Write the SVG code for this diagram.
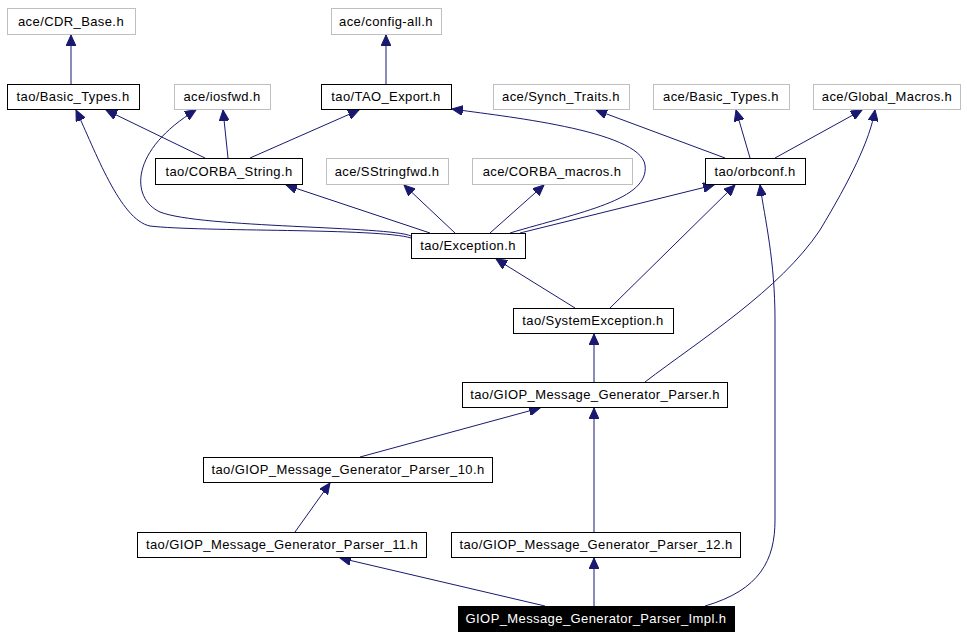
<svg xmlns="http://www.w3.org/2000/svg" width="967" height="639" viewBox="0 0 967 639">
<style>
text{font-family:"Liberation Sans",Arial,sans-serif;font-size:13px;letter-spacing:0.4px;text-anchor:middle;fill:#000}
.g rect{fill:#fff;stroke:#bfbfbf;stroke-width:1}
.b rect{fill:#fff;stroke:#000;stroke-width:1}
.k rect{fill:#000;stroke:#000}
.k text{fill:#fff}
#edges path{fill:none;stroke:#191970;stroke-width:1;marker-end:url(#a)}
</style>
<defs><marker id="a" markerUnits="userSpaceOnUse" markerWidth="12" markerHeight="10" refX="11" refY="5" orient="auto"><path d="M0,0 L11,5 L0,10 Z" fill="#191970" stroke="#191970"/></marker></defs>
<rect width="967" height="639" fill="#fff"/>
<g id="edges">
<path d="M71,84 L71,35"/>
<path d="M386,84 L386,35"/>
<path d="M205,158 L106,110"/>
<path d="M228,158 L223,110"/>
<path d="M250,158 L359,110"/>
<path d="M411,238 C380,228 200,232 150,226 C120,220 95,150 76,110"/>
<path d="M411,236 C390,226 200,228 160,212 C130,198 130,150 196,110"/>
<path d="M430,233 L286,185"/>
<path d="M455,233 L404,185"/>
<path d="M490,233 L544,185"/>
<path d="M510,233 C580,212 650,200 645,165 C640,130 500,116 452,109"/>
<path d="M520,233 L714,185"/>
<path d="M575,308 L496,259"/>
<path d="M610,308 L735,185"/>
<path d="M594,382 L594,334"/>
<path d="M645,382 C700,340 780,290 820,230 C850,180 870,140 875,110"/>
<path d="M725,158 L596,110"/>
<path d="M750,158 L736,110"/>
<path d="M775,158 L862,110"/>
<path d="M360,457 L540,408"/>
<path d="M594,532 L594,408"/>
<path d="M295,532 L330,483"/>
<path d="M545,606 L340,558"/>
<path d="M594,606 L594,558"/>
<path d="M705,606 C760,590 775,560 775,520 L775,320 C775,260 765,220 760,185"/>
</g>
<g id="n1" class="g"><rect x="7.5" y="8.5" width="128" height="26"/><text x="71" y="26">ace/CDR_Base.h</text></g>
<g id="n2" class="g"><rect x="331.5" y="8.5" width="110" height="26"/><text x="386" y="26">ace/config-all.h</text></g>
<g id="n3" class="b"><rect x="7.5" y="84.5" width="132" height="25"/><text x="73" y="101">tao/Basic_Types.h</text></g>
<g id="n4" class="g"><rect x="174.5" y="84.5" width="96" height="25"/><text x="222" y="101">ace/iosfwd.h</text></g>
<g id="n5" class="b"><rect x="321.5" y="84.5" width="130" height="25"/><text x="386" y="101">tao/TAO_Export.h</text></g>
<g id="n6" class="g"><rect x="493.5" y="84.5" width="136" height="25"/><text x="561" y="101">ace/Synch_Traits.h</text></g>
<g id="n7" class="g"><rect x="653.5" y="84.5" width="136" height="25"/><text x="721" y="101">ace/Basic_Types.h</text></g>
<g id="n8" class="g"><rect x="813.5" y="84.5" width="147" height="25"/><text x="887" y="101">ace/Global_Macros.h</text></g>
<g id="n9" class="b"><rect x="155.5" y="158.5" width="147" height="26"/><text x="229" y="176">tao/CORBA_String.h</text></g>
<g id="n10" class="g"><rect x="326.5" y="158.5" width="122" height="26"/><text x="387" y="176">ace/SStringfwd.h</text></g>
<g id="n11" class="g"><rect x="472.5" y="158.5" width="160" height="26"/><text x="552" y="176">ace/CORBA_macros.h</text></g>
<g id="n12" class="b"><rect x="705.5" y="158.5" width="100" height="26"/><text x="755" y="176">tao/orbconf.h</text></g>
<g id="n13" class="b"><rect x="411.5" y="233.5" width="114" height="25"/><text x="468" y="250">tao/Exception.h</text></g>
<g id="n14" class="b"><rect x="513.5" y="308.5" width="160" height="25"/><text x="593" y="325">tao/SystemException.h</text></g>
<g id="n15" class="b"><rect x="462.5" y="382.5" width="265" height="25"/><text x="595" y="399">tao/GIOP_Message_Generator_Parser.h</text></g>
<g id="n16" class="b"><rect x="203.5" y="457.5" width="289" height="25"/><text x="348" y="474">tao/GIOP_Message_Generator_Parser_10.h</text></g>
<g id="n17" class="b"><rect x="137.5" y="532.5" width="289" height="25"/><text x="282" y="549">tao/GIOP_Message_Generator_Parser_11.h</text></g>
<g id="n18" class="b"><rect x="451.5" y="532.5" width="289" height="25"/><text x="596" y="549">tao/GIOP_Message_Generator_Parser_12.h</text></g>
<g id="n19" class="k"><rect x="458.5" y="606.5" width="276" height="25"/><text x="596" y="623">GIOP_Message_Generator_Parser_Impl.h</text></g>
</svg>
